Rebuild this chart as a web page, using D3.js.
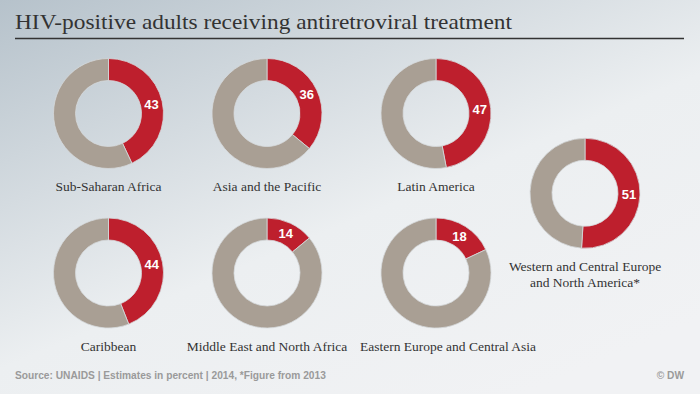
<!DOCTYPE html>
<html>
<head>
<meta charset="utf-8">
<script src="https://cdn.jsdelivr.net/npm/d3@7"></script>
<style>
  body { margin: 0; }
  svg { display: block; }
</style>
</head>
<body>
<div id="chart"></div>
<script>
const regions = ["Sub-Saharan Africa", "Asia and the Pacific", "Latin America",
  "Western and Central Europe|and North America*",
  "Caribbean", "Middle East and North Africa", "Eastern Europe and Central Asia"];
const values = [43, 36, 47, 51, 44, 14, 18];
// grid slot of each donut: column, row (0.5 = between the two rows)
const cols = [0, 1, 2, 3, 0, 1, 2];
const rows = [0, 0, 0, 0.5, 1, 1, 1];

const width = 700, height = 394;

const svg = d3.select("#chart")
  .append("svg")
  .attr("width", width)
  .attr("height", height);

const grad = svg.append("defs").append("linearGradient")
  .attr("id", "bg")
  .attr("x1", 0).attr("y1", 0)
  .attr("x2", 0.75).attr("y2", 1);
grad.append("stop").attr("offset", 0).attr("stop-color", "#b6c2cb");
grad.append("stop").attr("offset", 0.6).attr("stop-color", "#eceff1");
grad.append("stop").attr("offset", 1).attr("stop-color", "#f1f2f4");

svg.append("rect")
  .attr("width", width)
  .attr("height", height)
  .attr("fill", "url(#bg)");

// title
svg.append("text")
  .attr("x", 15)
  .attr("y", 29)
  .attr("font-family", "'Liberation Serif', serif")
  .attr("font-size", 21)
  .attr("fill", "#333")
  .attr("textLength", 497)
  .attr("lengthAdjust", "spacingAndGlyphs")
  .text("HIV-positive adults receiving antiretroviral treatment");

svg.append("line")
  .attr("x1", 15).attr("x2", 684)
  .attr("y1", 38.5).attr("y2", 38.5)
  .attr("stroke", "#333")
  .attr("stroke-width", 1.3);

const xPos = d3.scaleLinear().domain([0, 1, 2, 3]).range([108.5, 267, 436, 585]);
const y = d3.scaleLinear().domain([0, 1]).range([113.5, 273]);

const outerR = 55, innerR = 33;
const pie = d3.pie().sort(null).value(d => d);
const arc = d3.arc().innerRadius(innerR).outerRadius(outerR);

const donuts = svg.selectAll("g.donut")
  .data(values.map((v, i) => ({ v, i })))
  .enter()
  .append("g")
  .attr("class", "donut")
  .attr("transform", d => `translate(${xPos(cols[d.i])},${y(rows[d.i])})`);

donuts.selectAll("path")
  .data(d => pie([d.v, 100 - d.v]))
  .enter()
  .append("path")
  .attr("d", arc)
  .attr("fill", (d, j) => j === 0 ? "#be1f2d" : "#a99f94")
  .attr("stroke", "#d6d9dc")
  .attr("stroke-width", 0.8);

donuts.append("text")
  .attr("transform", d => {
    const c = arc.centroid(pie([d.v, 100 - d.v])[0]);
    return `translate(${c[0]},${c[1]})`;
  })
  .attr("text-anchor", "middle")
  .attr("dy", "0.36em")
  .attr("font-family", "'Liberation Sans', Arial, sans-serif")
  .attr("font-weight", "bold")
  .attr("font-size", 13)
  .attr("fill", "#fff")
  .text(d => d.v);

donuts.append("text")
  .attr("text-anchor", "middle")
  .attr("font-family", "'Liberation Serif', serif")
  .attr("font-size", 13.5)
  .attr("fill", "#333")
  .selectAll("tspan")
  .data(d => regions[d.i].split("|"))
  .enter()
  .append("tspan")
  .attr("x", (t, k, n) => t.startsWith("Eastern") ? 12 : 0)
  .attr("y", (t, k) => 77.5 + k * 16)
  .text(t => t);

// footer
const foot = svg.append("g")
  .attr("font-family", "'Liberation Sans', Arial, sans-serif")
  .attr("font-size", 10.2)
  .attr("font-weight", "bold")
  .attr("fill", "#9a9a9a");

foot.append("text")
  .attr("x", 15)
  .attr("y", 379)
  .text("Source: UNAIDS | Estimates in percent | 2014, *Figure from 2013");

foot.append("text")
  .attr("x", 684)
  .attr("y", 379)
  .attr("text-anchor", "end")
  .text("© DW");
</script>
</body>
</html>
